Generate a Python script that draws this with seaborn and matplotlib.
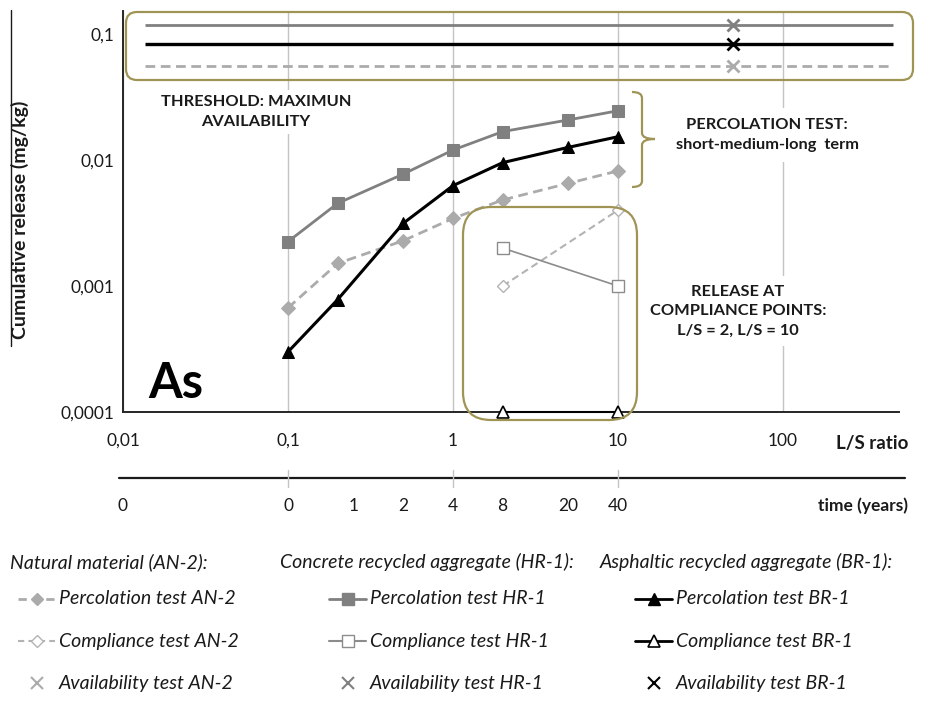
import matplotlib
matplotlib.use("Agg")
import matplotlib.pyplot as plt
import matplotlib.ticker as mticker
from matplotlib.patches import FancyBboxPatch, PathPatch
from matplotlib.path import Path
from matplotlib.lines import Line2D
from matplotlib.transforms import blended_transform_factory
import seaborn as sns

# ---- data -------------------------------------------------------------
ls_perc = [0.1, 0.2, 0.5, 1, 2, 5, 10]
perc_an2 = [0.00067, 0.00151, 0.00229, 0.00344, 0.00482, 0.00653, 0.00819]
perc_hr1 = [0.00225, 0.00453, 0.00774, 0.0120, 0.0168, 0.0208, 0.0246]
perc_br1 = [0.00030, 0.00078, 0.00315, 0.00626, 0.00953, 0.0126, 0.0153]

ls_comp = [2, 10]
comp_an2 = [0.001, 0.004]
comp_hr1 = [0.002, 0.001]
comp_br1 = [0.0001, 0.0001]

ls_avail = [50]
avail_an2 = [0.056]
avail_hr1 = [0.118]
avail_br1 = [0.083]

ytick_vals = [0.0001, 0.001, 0.01, 0.1]
ytick_labels = ["0,0001", "0,001", "0,01", "0,1"]
xtick_vals = [0.01, 0.1, 1, 10, 100]
xtick_labels = ["0,01", "0,1", "1", "10", "100"]
time_pos = [0.01, 0.1, 0.25, 0.5, 1, 2, 5, 10]
time_labels = ["0", "0", "1", "2", "4", "8", "20", "40"]

# ---- style ------------------------------------------------------------
sns.set_theme(style="white")
plt.rcParams["font.family"] = ["Lato", "DejaVu Sans"]

C_AN2 = "#ABABAB"
C_HR1 = "#808080"
C_BR1 = "#000000"
OLIVE = "#A09455"
INK = "#1a1a1a"

W, H = 933, 720
fig = plt.figure(figsize=(W / 100, H / 100), dpi=100)


def fx(px):
    return px / W


def fy(py):
    return 1 - py / H


ax = fig.add_axes([fx(123), fy(412), 776 / W, 401 / H])
ax.set_xscale("log")
ax.set_yscale("log")
ax.set_xlim(0.01, 10 ** (-2 + 776 / 165))
ax.set_ylim(1e-4, 10 ** (-4 + 401 / 126))

# percolation tests
sns.lineplot(x=ls_perc, y=perc_an2, ax=ax, color=C_AN2, lw=2, linestyle=(0, (3.5, 2)),
             marker="D", markersize=7, markerfacecolor=C_AN2, markeredgecolor=C_AN2, zorder=3)
sns.lineplot(x=ls_perc, y=perc_hr1, ax=ax, color=C_HR1, lw=2, marker="s", markersize=8.5,
             markerfacecolor=C_HR1, markeredgecolor=C_HR1, zorder=3)
sns.lineplot(x=ls_perc, y=perc_br1, ax=ax, color=C_BR1, lw=2.2, marker="^", markersize=9,
             markerfacecolor=C_BR1, markeredgecolor=C_BR1, zorder=4)

# compliance tests
sns.lineplot(x=ls_comp, y=comp_an2, ax=ax, color="#B3B3B3", lw=1.5, linestyle=(0, (3.5, 2)),
             marker="D", markersize=6.5, markerfacecolor="white", markeredgecolor="#B3B3B3",
             markeredgewidth=1, zorder=3)
sns.lineplot(x=ls_comp, y=comp_hr1, ax=ax, color="#8C8C8C", lw=1.2, marker="s", markersize=8,
             markerfacecolor="white", markeredgecolor="#8C8C8C", markeredgewidth=1, zorder=3)
sns.lineplot(x=ls_comp, y=comp_br1, ax=ax, color=C_BR1, lw=1.5, marker="^", markersize=8,
             markerfacecolor="white", markeredgecolor=C_BR1, markeredgewidth=1.2,
             zorder=5, clip_on=False)

# availability thresholds
thr_x0, thr_x1 = 10 ** (-2 + 22 / 165), 10 ** (-2 + 770 / 165)
ax.hlines(avail_hr1, thr_x0, thr_x1, colors=C_HR1, lw=2, zorder=3)
ax.hlines(avail_br1, thr_x0, thr_x1, colors=C_BR1, lw=2.4, zorder=3)
ax.hlines(avail_an2, thr_x0, thr_x1, colors=C_AN2, lw=2, linestyles=[(0, (3.5, 2))], zorder=3)
for vals, col in [(avail_hr1, C_HR1), (avail_br1, C_BR1), (avail_an2, C_AN2)]:
    sns.lineplot(x=ls_avail, y=vals, ax=ax, color=col, linestyle="none", marker="x",
                 markersize=9, markeredgecolor=col, markeredgewidth=2, zorder=6)

if ax.get_legend() is not None:
    ax.get_legend().remove()

# axes cosmetics
ax.xaxis.set_major_locator(mticker.FixedLocator(xtick_vals))
ax.xaxis.set_major_formatter(mticker.FixedFormatter(xtick_labels))
ax.xaxis.set_minor_locator(mticker.NullLocator())
ax.yaxis.set_major_locator(mticker.FixedLocator(ytick_vals))
ax.yaxis.set_major_formatter(mticker.FixedFormatter(ytick_labels))
ax.yaxis.set_minor_locator(mticker.NullLocator())
ax.tick_params(axis="both", length=0, labelsize=12.5, colors=INK)
ax.tick_params(axis="x", pad=15)
ax.tick_params(axis="y", pad=6)
ax.grid(axis="x", color="#C4C4C4", lw=1, zorder=0)
ax.grid(axis="y", visible=False)
for side in ["top", "right"]:
    ax.spines[side].set_visible(False)
for side in ["left", "bottom"]:
    ax.spines[side].set_color("#262626")
    ax.spines[side].set_linewidth(1.4)
ax.set_xlabel("")
ax.set_ylabel("")

# y label with a rule alongside it
fig.text(fx(20), fy(220), "Cumulative release (mg/kg)", rotation=90, ha="center", va="center",
         fontsize=14, fontweight="bold", color=INK)
fig.add_artist(Line2D([fx(11), fx(11)], [fy(10), fy(346)], transform=fig.transFigure,
                      color=INK, lw=1))

fig.text(fx(908), fy(443), "L/S ratio", ha="right", va="center", fontsize=13.5,
         fontweight="bold", color=INK)

# time axis below the L/S axis
bt = blended_transform_factory(ax.transData, fig.transFigure)
fig.add_artist(Line2D([fx(119), fx(905)], [fy(478), fy(478)], transform=fig.transFigure,
                      color=INK, lw=1.6))
for v in [0.1, 1, 10]:
    fig.add_artist(Line2D([v, v], [fy(470), fy(487)], transform=bt, color="#C4C4C4", lw=1))
for v, lab in zip(time_pos, time_labels):
    fig.text(v, fy(506), lab, transform=bt, ha="center", va="center", fontsize=12.5,
             color=INK)
fig.text(fx(908), fy(506), "time (years)", ha="right", va="center", fontsize=12.5,
         fontweight="bold", color=INK)

# element label
fig.text(fx(148), fy(383), "As", ha="left", va="center", fontsize=35, fontweight="bold",
         color="black")

# annotation boxes and texts
inch = fig.dpi_scale_trans


def rbox(x0, y0, x1, y1, r):
    p = FancyBboxPatch((x0 / 100, (H - y1) / 100), (x1 - x0) / 100, (y1 - y0) / 100,
                       boxstyle=f"round,pad=0,rounding_size={r / 100}", transform=inch,
                       fc="none", ec=OLIVE, lw=1.6, zorder=7)
    fig.add_artist(p)


rbox(126, 12, 913, 80, 11)
rbox(463, 207, 637, 420, 28)

# curly bracket next to the percolation end values
bx0, bxm, bx1 = 632 / 100, 642 / 100, 655 / 100
by_top, by_tip, by_bot = (H - 92) / 100, (H - 139) / 100, (H - 187) / 100
r = 6 / 100
verts = [(bx0, by_top), (bxm, by_top), (bxm, by_top - r),
         (bxm, by_tip + r), (bxm, by_tip), (bx1, by_tip),
         (bxm, by_tip), (bxm, by_tip - r),
         (bxm, by_bot + r), (bxm, by_bot), (bx0, by_bot)]
codes = [Path.MOVETO, Path.CURVE3, Path.CURVE3,
         Path.LINETO, Path.CURVE3, Path.CURVE3,
         Path.CURVE3, Path.CURVE3,
         Path.LINETO, Path.CURVE3, Path.CURVE3]
fig.add_artist(PathPatch(Path(verts, codes), transform=inch, fc="none", ec=OLIVE, lw=1.6))

note_kw = dict(ha="center", va="center", fontsize=11.8, fontweight="bold", color=INK,
               linespacing=1.5)
fig.text(fx(256), fy(112), "THRESHOLD: MAXIMUN\nAVAILABILITY",
         bbox=dict(boxstyle="square,pad=0.35", fc="white", ec="none"), **note_kw)
fig.text(fx(767), fy(135), "PERCOLATION TEST:\nshort-medium-long  term",
         bbox=dict(boxstyle="square,pad=0.6", fc="white", ec="none"), **note_kw)
fig.text(fx(738), fy(311), "RELEASE AT\nCOMPLIANCE POINTS:\nL/S = 2, L/S = 10",
         bbox=dict(boxstyle="square,pad=0.5", fc="white", ec="none"), **note_kw)

# legend, three material columns
leg_font = dict(fontsize=14, fontstyle="italic", color=INK, va="center")
headers = ["Natural material (AN-2):", "Concrete recycled aggregate (HR-1):",
           "Asphaltic recycled aggregate (BR-1):"]
header_x = [10, 280, 600]
handle_x = [18, 329, 635]
row_y = [599, 641, 683]
entries = [
    [("Percolation test AN-2", dict(color=C_AN2, lw=2, ls=(0, (3, 2)), marker="D", ms=6,
                                    mfc=C_AN2, mec=C_AN2)),
     ("Compliance test AN-2", dict(color="#B3B3B3", lw=1.5, ls=(0, (3, 2)), marker="D", ms=6,
                                   mfc="white", mec="#B3B3B3", mew=1)),
     ("Availability test AN-2", dict(color=C_AN2, lw=0, marker="x", ms=9, mec=C_AN2, mew=1.5))],
    [("Percolation test HR-1", dict(color=C_HR1, lw=2, marker="s", ms=8, mfc=C_HR1, mec=C_HR1)),
     ("Compliance test HR-1", dict(color="#8C8C8C", lw=1.5, marker="s", ms=8, mfc="white",
                                   mec="#8C8C8C", mew=1)),
     ("Availability test HR-1", dict(color=C_HR1, lw=0, marker="x", ms=9, mec=C_HR1, mew=1.5))],
    [("Percolation test BR-1", dict(color=C_BR1, lw=2, marker="^", ms=8, mfc=C_BR1, mec=C_BR1)),
     ("Compliance test BR-1", dict(color=C_BR1, lw=2, marker="^", ms=8, mfc="white",
                                   mec=C_BR1, mew=1.2)),
     ("Availability test BR-1", dict(color=C_BR1, lw=0, marker="x", ms=9, mec=C_BR1, mew=1.5))],
]
for col in range(3):
    fig.text(fx(header_x[col]), fy(562), headers[col], ha="left", **leg_font)
    hx0 = handle_x[col]
    hx1 = hx0 + 37
    for row, (lab, st) in enumerate(entries[col]):
        yy = fy(row_y[row])
        fig.add_artist(Line2D([fx(hx0), fx((hx0 + hx1) / 2), fx(hx1)], [yy, yy, yy],
                              transform=fig.transFigure, markevery=[1], **st))
        fig.text(fx(hx1 + 4), yy, lab, ha="left", **leg_font)

fig.savefig("out.png", dpi=100, facecolor="white")
